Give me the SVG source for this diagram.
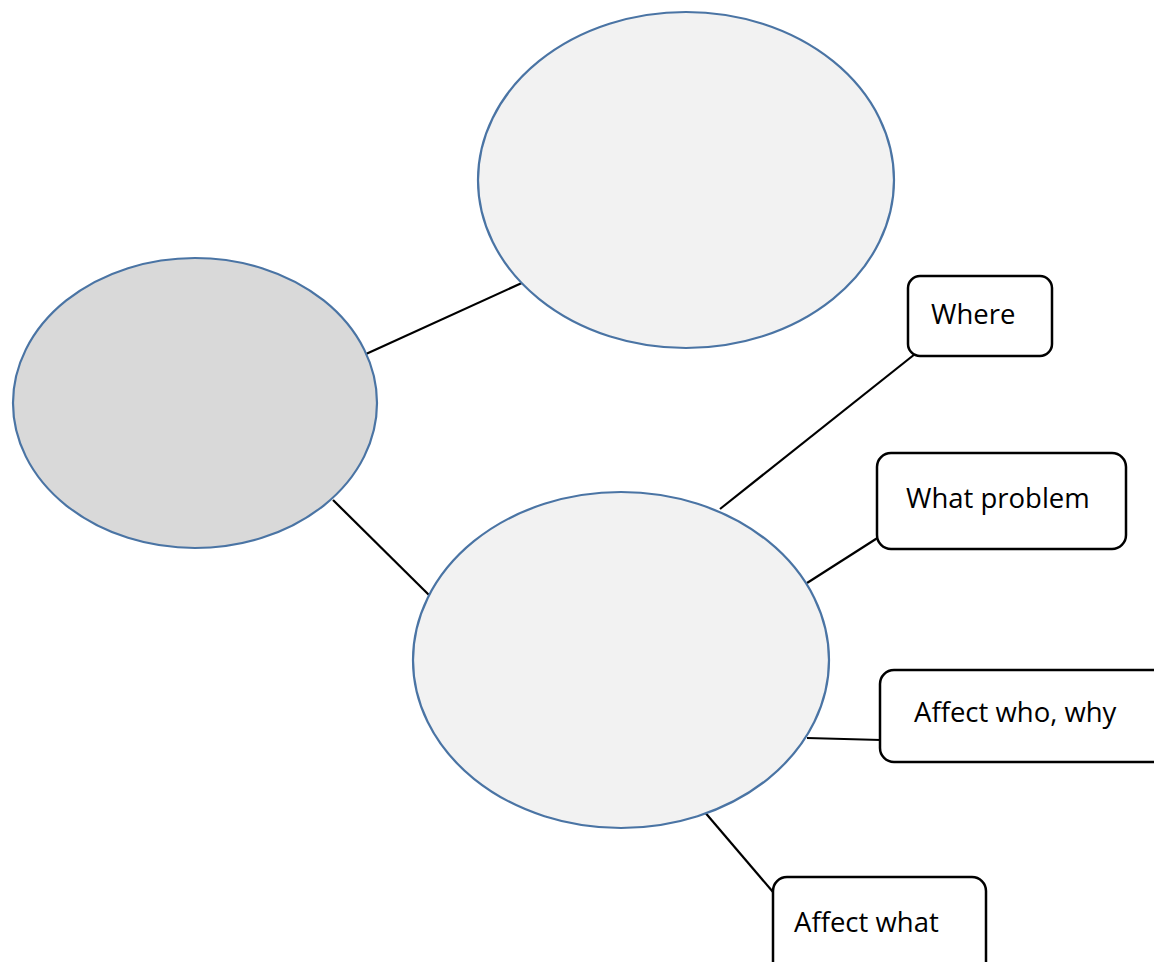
<svg xmlns="http://www.w3.org/2000/svg" width="1154" height="962" viewBox="0 0 1154 962">
<style>
.ell{stroke:#4a74a4;stroke-width:2.2}
.box{fill:#fff;stroke:#000;stroke-width:2.5}
.lbl{font-family:"Open Sans","Liberation Sans",sans-serif;font-size:27.5px;fill:#000}
.con line{stroke:#000;stroke-width:2.2}
</style>
<rect width="1154" height="962" fill="#fff"/>
<g id="connectors" class="con">
<line x1="366" y1="354" x2="524" y2="282"/>
<line x1="333" y1="500" x2="429" y2="595"/>
<line x1="720" y1="509" x2="915" y2="354"/>
<line x1="807" y1="583" x2="879" y2="537"/>
<line x1="807" y1="738" x2="881" y2="740"/>
<line x1="703" y1="810" x2="773" y2="892"/>
</g>
<g id="top-ellipse"><ellipse class="ell" cx="686" cy="180" rx="208" ry="168" fill="#f2f2f2"/></g>
<g id="left-ellipse"><ellipse class="ell" cx="195" cy="403" rx="182" ry="145" fill="#d9d9d9"/></g>
<g id="bottom-ellipse"><ellipse class="ell" cx="621" cy="660" rx="208" ry="168" fill="#f2f2f2"/></g>
<g id="where"><rect class="box" x="908" y="276" width="144" height="80" rx="12"/><text class="lbl" x="931" y="324">Where</text></g>
<g id="what-problem"><rect class="box" x="877" y="453" width="249" height="96" rx="14"/><text class="lbl" x="906" y="508">What problem</text></g>
<g id="affect-who"><rect class="box" x="880" y="670" width="290" height="92" rx="14"/><text class="lbl" x="914" y="722">Affect who, why</text></g>
<g id="affect-what"><rect class="box" x="773" y="877" width="213" height="100" rx="14"/><text class="lbl" x="794" y="932">Affect what</text></g>
</svg>
